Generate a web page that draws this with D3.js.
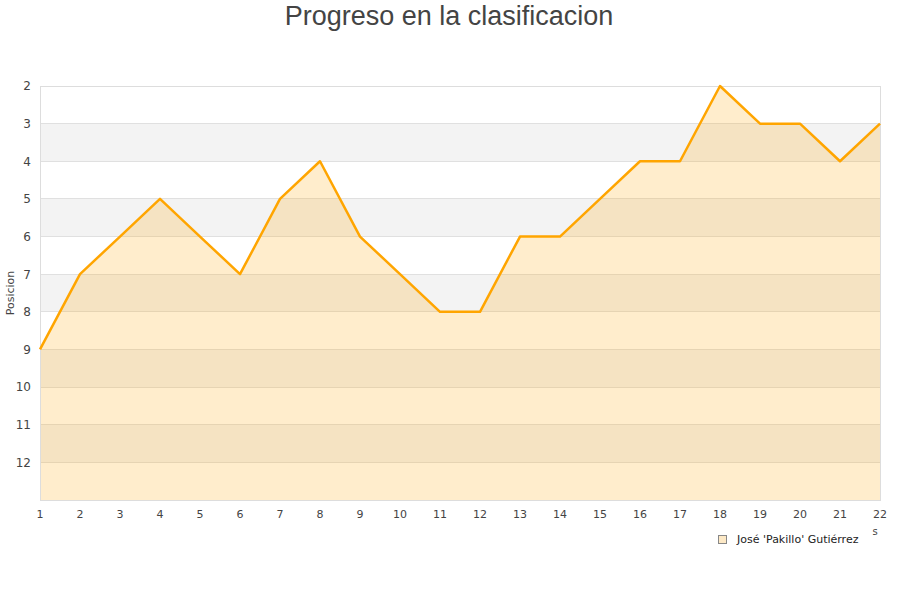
<!DOCTYPE html>
<html><head><meta charset="utf-8">
<script src="https://cdn.jsdelivr.net/npm/d3@7"></script>
<style>body{margin:0;background:#fff}svg{display:block}</style>
</head><body>
<svg id="c" width="900" height="600"></svg>
<script>
const jornadas = [1,2,3,4,5,6,7,8,9,10,11,12,13,14,15,16,17,18,19,20,21,22];
const posiciones = [9,7,6,5,6,7,5,4,6,7,8,8,6,6,5,4,4,2,3,3,4,3];
const yTicks = [2,3,4,5,6,7,8,9,10,11,12];
const seriesName = "José 'Pakillo' Gutiérrez";
const title = "Progreso en la clasificacion";
const yTitle = "Posicion";

const svg = d3.select('#c');
const L = 40, R = 880, T = 86, B = 500;
const x = d3.scaleLinear().domain([1, 22]).range([L, R]);
const y = d3.scaleLinear().domain([2, 13]).range([T, B]);

// bands
const bandStarts = d3.range(2, 13);
svg.append('g').selectAll('rect').data(bandStarts).join('rect')
  .attr('x', L).attr('width', R - L)
  .attr('y', d => y(d)).attr('height', d => y(d + 1) - y(d))
  .attr('fill', d => (d % 2 === 1) ? '#f3f3f3' : '#ffffff');

// grid lines
svg.append('g').selectAll('line').data(d3.range(3, 13)).join('line')
  .attr('x1', L).attr('x2', R).attr('y1', d => y(d)).attr('y2', d => y(d))
  .attr('stroke', '#e0e0e0').attr('stroke-width', 1).attr('shape-rendering', 'crispEdges');

const pts = jornadas.map((j, i) => [j, posiciones[i]]);
svg.append('path').datum(pts)
  .attr('d', d3.area().x(d => x(d[0])).y0(y(13)).y1(d => y(d[1])))
  .attr('fill', 'rgba(255,165,0,0.2)');

// border
svg.append('rect').attr('x', L + 0.5).attr('y', T + 0.5).attr('width', R - L).attr('height', B - T)
  .attr('fill', 'none').attr('stroke', '#dddddd').attr('shape-rendering', 'crispEdges');

svg.append('path').datum(pts)
  .attr('d', d3.line().x(d => x(d[0])).y(d => y(d[1])))
  .attr('fill', 'none').attr('stroke', '#ffa500').attr('stroke-width', 2.5).attr('stroke-linejoin', 'round');

// y axis labels
svg.append('g').selectAll('text').data(yTicks).join('text')
  .attr('x', 31).attr('y', d => y(d)).attr('dy', '0.36em')
  .attr('text-anchor', 'end').attr('font-family', 'DejaVu Sans').attr('font-size', 12).attr('fill', '#444')
  .text(d => d);

// x axis labels
svg.append('g').selectAll('text').data(jornadas).join('text')
  .attr('x', d => x(d)).attr('y', 518)
  .attr('text-anchor', 'middle').attr('font-family', 'DejaVu Sans').attr('font-size', 11).attr('fill', '#444')
  .text(d => d);

svg.append('text').attr('transform', 'translate(14,293) rotate(-90)')
  .attr('text-anchor', 'middle').attr('font-family', 'DejaVu Sans').attr('font-size', 11).attr('fill', '#444')
  .text(yTitle);

svg.append('text').attr('x', 875).attr('y', 535).attr('text-anchor', 'middle')
  .attr('font-family', 'DejaVu Sans').attr('font-size', 10).attr('fill', '#444').text('s');

svg.append('text').attr('x', 449).attr('y', 25).attr('text-anchor', 'middle')
  .attr('font-family', 'Liberation Sans, Arial').attr('font-size', 27).attr('fill', '#444')
  .text(title);

// legend
svg.append('rect').attr('x', 718.5).attr('y', 535.5).attr('width', 8).attr('height', 8)
  .attr('fill', '#fde9c6').attr('stroke', '#888');
svg.append('text').attr('x', 737).attr('y', 543).attr('font-family', 'DejaVu Sans').attr('font-size', 11)
  .attr('fill', '#222').text(seriesName);
</script>
</body></html>
